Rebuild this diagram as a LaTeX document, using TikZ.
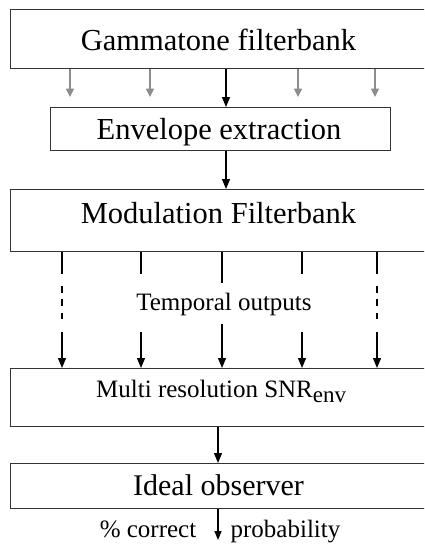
\documentclass[tikz,border=0pt]{standalone}
\usepackage{fontspec}
\setmainfont{Liberation Serif}
\usetikzlibrary{arrows.meta}
\begin{document}
\begin{tikzpicture}[x=1pt,y=-1pt,
  box/.style={draw=black!80, line width=1.2pt, inner sep=0pt, anchor=north west},
  big/.style={font=\fontsize{30.5}{30.5}\selectfont, anchor=base, inner sep=0pt},
  mid/.style={font=\fontsize{25}{25}\selectfont, anchor=base, inner sep=0pt},
  blk/.style={line width=1.2pt, -{Triangle[length=10pt,width=8pt]}},
  gry/.style={line width=1.1pt, draw=black!45, fill=black!45, -{Triangle[length=8.5pt,width=8pt]}},
]
\useasboundingbox (0,0) rectangle (424,546);
\clip (0,0) rectangle (424,546);

\node[box, minimum width=417pt, minimum height=59pt] (b1) at (10,9) {};
\node[big] (t1) at (218.5,50) {Gammatone filterbank};
\node[box, minimum width=340pt, minimum height=43pt] (b2) at (50,107) {};
\node[big] (t2) at (219,139) {Envelope extraction};
\node[box, minimum width=417pt, minimum height=62pt] (b3) at (10,189) {};
\node[big] (t3) at (218.5,223) {Modulation Filterbank};
\node[box, minimum width=417pt, minimum height=57.5pt] (b4) at (10,368) {};
\node[mid, anchor=base west] (t4) at (96,397) {Multi resolution SNR\raisebox{-5pt}{\fontsize{23}{23}\selectfont env}};
\node[box, minimum width=417pt, minimum height=45pt] (b5) at (10,463) {};
\node[big, font=\fontsize{30}{30}\selectfont] (t5) at (218.5,495) {Ideal observer};

\node[mid] (tt) at (224,310) {Temporal outputs};
\node[mid] (pc) at (148,537) {\% correct};
\node[mid] (pr) at (285.5,537) {probability};

% gray channel arrows
\foreach \x/\n in {70/g1,150/g2,298/g3,375/g4} {
  \coordinate (\n) at (\x,97);
  \draw[gry] (b1.south -| \n) -- (\n);
}
\coordinate (m1) at (226,0);
\draw[blk] (b1.south -| m1) -- (b2.north -| m1);
\draw[blk] (b2.south -| m1) -- (b3.north -| m1);

% modulation outputs
\coordinate (o1) at (62,0);
\coordinate (o2) at (141,0);
\coordinate (o3) at (222,0);
\coordinate (o4) at (302,0);
\coordinate (o5) at (377,0);
\foreach \n in {o1,o5}
  \draw[blk, dash pattern=on 22pt off 12pt on 7pt off 6pt on 7pt off 7pt on 6pt off 13pt on 60pt] (b3.south -| \n) -- (b4.north -| \n);
\foreach \n in {o2,o4}
  \draw[blk, dash pattern=on 22pt off 58pt on 60pt] (b3.south -| \n) -- (b4.north -| \n);
\draw[blk, dash pattern=on 31pt off 41pt on 60pt] (b3.south -| o3) -- (b4.north -| o3);

\coordinate (m2) at (218,0);
\draw[blk] (b4.south -| m2) -- (b5.north -| m2);
\coordinate (e) at (218,540);
\draw[line width=1.2pt, -{Triangle[length=9pt,width=7pt]}] (b5.south -| e) -- (e);
\end{tikzpicture}
\end{document}
